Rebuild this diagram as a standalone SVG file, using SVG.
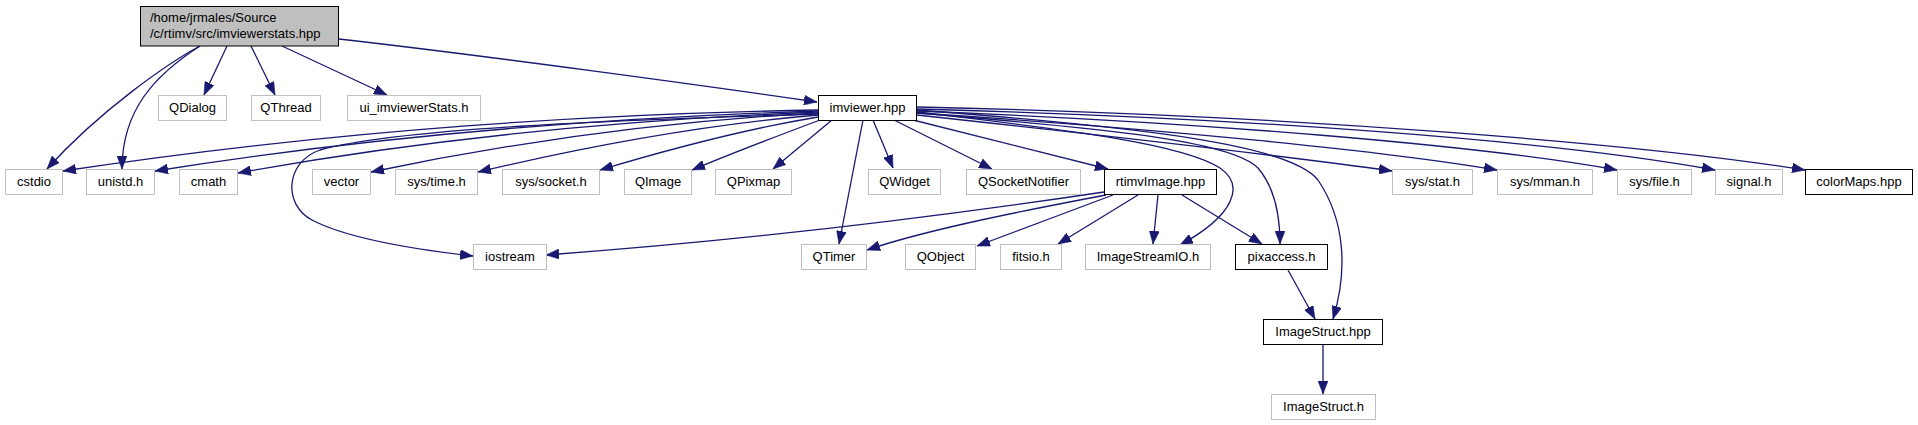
<svg xmlns="http://www.w3.org/2000/svg" width="1918" height="425" viewBox="0 0 1918 425">
<style>
  .n rect { fill: #ffffff; stroke: #bfbfbf; stroke-width: 1; }
  .d rect { fill: #ffffff; stroke: #000000; stroke-width: 1; }
  .r rect { fill: #bfbfbf; stroke: #000000; stroke-width: 1; }
  text { font-family: "Liberation Sans", Arial, Helvetica, sans-serif; font-size: 13px; fill: #000000; text-anchor: middle; }
  .r text { text-anchor: start; }
  #edges path { fill: none; stroke: #191970; stroke-width: 1.3; marker-end: url(#ah); }
</style>
<defs>
  <marker id="ah" markerUnits="userSpaceOnUse" markerWidth="13" markerHeight="10" viewBox="0 0 13 10" refX="13" refY="5" orient="auto">
    <path d="M0,0 L13,5 L0,10 z" fill="#191970" stroke="#191970" stroke-width="0.5"/>
  </marker>
</defs>
<rect x="0" y="0" width="1918" height="425" fill="#ffffff"/>

<g id="edges">
  <path d="M200,46 C170,62 100,110 47,169"/>
  <path d="M200,46 C155,75 122,110 122,169"/>
  <path d="M227,46 L204,95"/>
  <path d="M251,46 L275,95"/>
  <path d="M282,46 L387,95"/>
  <path d="M339,39 C480,55 700,85 817,102"/>

  <path d="M818,110 C600,114 350,128 63,171"/>
  <path d="M818,111 C600,118 380,135 155,171"/>
  <path d="M818,112 C620,120 420,140 238,173"/>
  <path d="M818,114 C620,120 400,128 320,150 C285,162 283,205 312,220 C350,240 420,250 473,256"/>
  <path d="M818,113 C650,122 500,145 371,172"/>
  <path d="M818,115 C700,125 580,148 478,172"/>
  <path d="M818,117 C740,130 660,152 600,170"/>
  <path d="M820,120 C780,135 735,152 692,170"/>
  <path d="M832,120 L773,169"/>
  <path d="M863,120 L839,244"/>
  <path d="M873,120 L893,168"/>
  <path d="M894,120 L992,169"/>
  <path d="M913,120 L1108,169"/>
  <path d="M917,112 C1050,128 1180,142 1220,168 C1245,185 1235,215 1180,245"/>
  <path d="M917,113 C1100,128 1230,140 1258,168 C1275,188 1280,215 1280,244"/>
  <path d="M917,110 C1150,128 1290,145 1318,180 C1345,220 1348,270 1333,319"/>
  <path d="M917,115 C1100,135 1300,158 1392,171"/>
  <path d="M917,113 C1150,128 1380,150 1497,170"/>
  <path d="M917,111 C1200,122 1480,145 1617,170"/>
  <path d="M917,109 C1250,118 1550,140 1715,170"/>
  <path d="M917,107 C1300,115 1650,145 1805,170"/>

  <path d="M1104,192 C950,215 750,240 546,255"/>
  <path d="M1106,195 C1000,215 920,232 867,250"/>
  <path d="M1113,195 L977,246"/>
  <path d="M1138,195 L1058,244"/>
  <path d="M1158,195 L1153,244"/>
  <path d="M1182,195 L1262,244"/>
  <path d="M1288,270 L1315,319"/>
  <path d="M1323,345 L1323,394"/>
</g>

<g id="node_root" class="r"><rect x="140.5" y="6.5" width="198" height="39.5"/><text x="150" y="21.5">/home/jrmales/Source</text><text x="150" y="37.5">/c/rtimv/src/imviewerstats.hpp</text></g>
<g id="node_QDialog" class="n"><rect x="158.5" y="95.5" width="68" height="25"/><text x="192.5" y="112">QDialog</text></g>
<g id="node_QThread" class="n"><rect x="251.5" y="95.5" width="69" height="25"/><text x="286" y="112">QThread</text></g>
<g id="node_ui_imviewerStats" class="n"><rect x="347.5" y="95.5" width="133" height="25"/><text x="414" y="112">ui_imviewerStats.h</text></g>
<g id="node_imviewer" class="d"><rect x="818.5" y="95.5" width="98" height="25"/><text x="867.5" y="112">imviewer.hpp</text></g>

<g id="node_cstdio" class="n"><rect x="5.5" y="169.5" width="57" height="25"/><text x="34" y="186">cstdio</text></g>
<g id="node_unistd" class="n"><rect x="86.5" y="169.5" width="68" height="25"/><text x="120.5" y="186">unistd.h</text></g>
<g id="node_cmath" class="n"><rect x="179.5" y="169.5" width="58" height="25"/><text x="208.5" y="186">cmath</text></g>
<g id="node_vector" class="n"><rect x="312.5" y="169.5" width="58" height="25"/><text x="341.5" y="186">vector</text></g>
<g id="node_systime" class="n"><rect x="395.5" y="169.5" width="82" height="25"/><text x="436.5" y="186">sys/time.h</text></g>
<g id="node_syssocket" class="n"><rect x="502.5" y="169.5" width="97" height="25"/><text x="551" y="186">sys/socket.h</text></g>
<g id="node_QImage" class="n"><rect x="624.5" y="169.5" width="67" height="25"/><text x="658" y="186">QImage</text></g>
<g id="node_QPixmap" class="n"><rect x="715.5" y="169.5" width="76" height="25"/><text x="753.5" y="186">QPixmap</text></g>
<g id="node_QWidget" class="n"><rect x="868.5" y="169.5" width="72" height="25"/><text x="904.5" y="186">QWidget</text></g>
<g id="node_QSocketNotifier" class="n"><rect x="966.5" y="169.5" width="114" height="25"/><text x="1023.5" y="186">QSocketNotifier</text></g>
<g id="node_rtimvImage" class="d"><rect x="1104.5" y="169.5" width="112" height="25"/><text x="1160.5" y="186">rtimvImage.hpp</text></g>
<g id="node_sysstat" class="n"><rect x="1392.5" y="169.5" width="80" height="25"/><text x="1432.5" y="186">sys/stat.h</text></g>
<g id="node_sysmman" class="n"><rect x="1497.5" y="169.5" width="95" height="25"/><text x="1545" y="186">sys/mman.h</text></g>
<g id="node_sysfile" class="n"><rect x="1617.5" y="169.5" width="74" height="25"/><text x="1654.5" y="186">sys/file.h</text></g>
<g id="node_signal" class="n"><rect x="1715.5" y="169.5" width="67" height="25"/><text x="1749" y="186">signal.h</text></g>
<g id="node_colorMaps" class="d"><rect x="1805.5" y="169.5" width="107" height="25"/><text x="1859" y="186">colorMaps.hpp</text></g>

<g id="node_iostream" class="n"><rect x="473.5" y="244.5" width="73" height="25"/><text x="510" y="261">iostream</text></g>
<g id="node_QTimer" class="n"><rect x="801.5" y="244.5" width="65" height="25"/><text x="834" y="261">QTimer</text></g>
<g id="node_QObject" class="n"><rect x="905.5" y="244.5" width="70" height="25"/><text x="940.5" y="261">QObject</text></g>
<g id="node_fitsio" class="n"><rect x="1000.5" y="244.5" width="61" height="25"/><text x="1031" y="261">fitsio.h</text></g>
<g id="node_ImageStreamIO" class="n"><rect x="1085.5" y="244.5" width="125" height="25"/><text x="1148" y="261">ImageStreamIO.h</text></g>
<g id="node_pixaccess" class="d"><rect x="1235.5" y="244.5" width="92" height="25"/><text x="1281.5" y="261">pixaccess.h</text></g>

<g id="node_ImageStructhpp" class="d"><rect x="1263.5" y="319.5" width="119" height="25"/><text x="1323" y="336">ImageStruct.hpp</text></g>
<g id="node_ImageStructh" class="n"><rect x="1271.5" y="394.5" width="104" height="25"/><text x="1323.5" y="411">ImageStruct.h</text></g>
</svg>
